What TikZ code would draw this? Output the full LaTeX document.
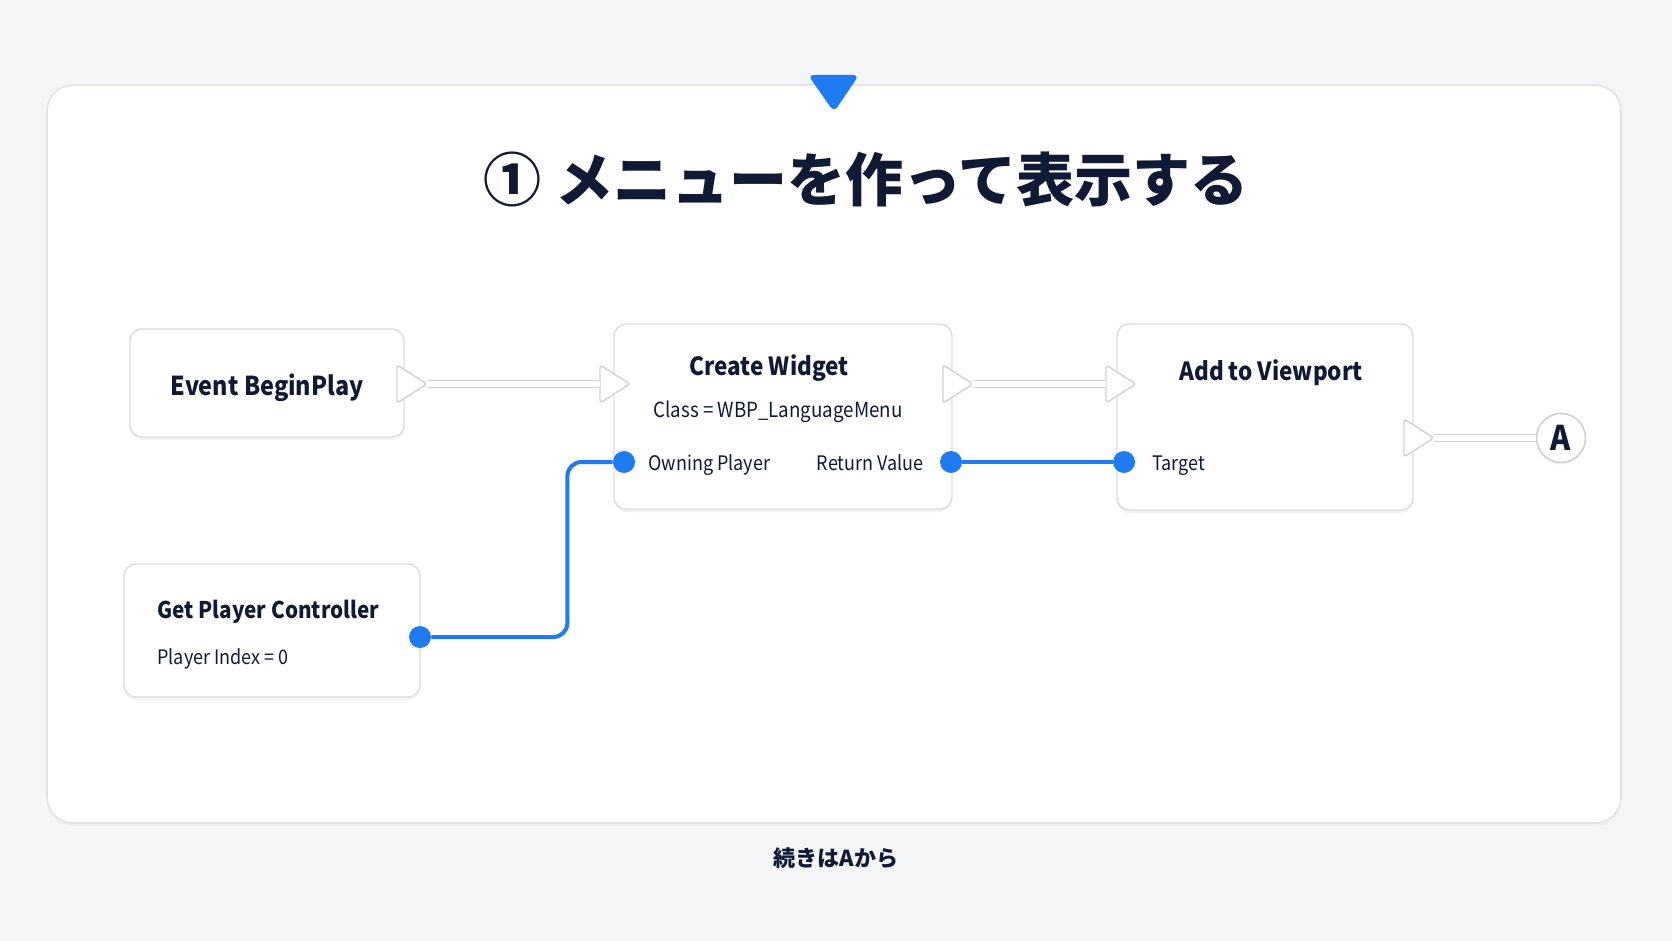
\documentclass[tikz,border=0pt]{standalone}
\usepackage{fontspec}
\setmainfont{Noto Sans CJK JP}
\newfontfamily\uifont[FakeStretch=0.9]{Noto Sans CJK JP}
\usetikzlibrary{shadows}

\definecolor{bgcol}{HTML}{F4F5F7}
\definecolor{panelline}{HTML}{E1E3E7}
\definecolor{boxline}{HTML}{DCDDE0}
\definecolor{ink}{HTML}{111A35}
\definecolor{pinblue}{HTML}{1F7BF2}
\definecolor{execline}{HTML}{CFD1D5}

\tikzset{
  nodebox/.style={draw=boxline, fill=white, line width=0.7pt, rounded corners=6pt,
    drop shadow={shadow xshift=0pt, shadow yshift=-1.5pt, opacity=0.10}},
  headtext/.style={text=ink, font=\uifont\bfseries\fontsize{12.5}{15}\selectfont, inner sep=0pt},
  bodytext/.style={text=ink, font=\uifont\fontsize{10}{12}\selectfont, inner sep=0pt},
  datapin/.style={circle, fill=pinblue, minimum size=11pt, inner sep=0pt},
  wire/.style={draw=pinblue, line width=2pt, rounded corners=7pt},
  execwire/.style={draw=execline, line width=0.6pt, double=white, double distance=2.6pt},
  execshape/.style={draw=execline, fill=white, line width=0.7pt, rounded corners=1.5pt, line join=round},
}

% exec pin: name, x of base, y of centre
\newcommand{\execpin}[3]{%
  \coordinate (#1) at (#2,#3);
  \coordinate (#1-tip) at (#2+30,#3);
  \draw[execshape] (#2,#3-19) -- (#2+30,#3) -- (#2,#3+19) -- cycle;
}

\begin{document}
\begin{tikzpicture}[x=0.5pt, y=-0.5pt]
    \useasboundingbox (0,0) rectangle (1672,941);
    \fill[bgcol] (0,0) rectangle (1672,941);

    % Panel and marker
    \draw[draw=panelline, fill=white, line width=0.8pt, rounded corners=13pt,
      drop shadow={shadow xshift=0pt, shadow yshift=-1.5pt, opacity=0.06}] (47,85) rectangle (1621,823);
    \fill[pinblue, rounded corners=3pt] (808,75) -- (859,75) -- (834,112) -- cycle;

    % Title
    \node[text=ink, font=\bfseries\fontsize{29}{35}\selectfont, inner sep=0pt] (title) at (866,179) {① メニューを作って表示する};

    % Node boxes
    \node[nodebox, minimum width=137pt, minimum height=54pt] (begin) at (267,383) {};
    \node[nodebox, minimum width=169pt, minimum height=92.5pt] (widget) at (783,416.5) {};
    \node[nodebox, minimum width=148pt, minimum height=93pt] (viewport) at (1265,417) {};
    \node[nodebox, minimum width=148pt, minimum height=66.5pt] (getpc) at (272,630.5) {};

    % Node texts
    \node[headtext, font=\uifont\bfseries\fontsize{13}{16}\selectfont, anchor=base] (begintxt) at (267,395) {Event BeginPlay};
    \node[headtext, anchor=base] (widgettxt) at (769,376) {Create Widget};
    \node[bodytext, font=\uifont\fontsize{10.4}{12}\selectfont, anchor=base] (classtxt) at (778,417) {Class = WBP\_LanguageMenu};
    \node[bodytext, anchor=base west] (owningtxt) at (648,470) {Owning Player};
    \node[bodytext, anchor=base east] (returntxt) at (924,470) {Return Value};
    \node[headtext, anchor=base] (viewporttxt) at (1271,381) {Add to Viewport};
    \node[bodytext, anchor=base west] (targettxt) at (1152,470) {Target};
    \node[headtext, font=\uifont\bfseries\fontsize{11.5}{14}\selectfont, anchor=base west] (getpctxt) at (157,618) {Get Player Controller};
    \node[bodytext, anchor=base west] (indextxt) at (157,664) {Player Index = 0};

    % Exec pins and wires
    \execpin{beginout}{397}{384}
    \execpin{widgetin}{600}{384}
    \execpin{widgetout}{943}{384}
    \execpin{viewportin}{1106}{384}
    \execpin{viewportout}{1404}{438}
    \node[circle, draw=execline, fill=white, line width=0.8pt, minimum size=24.5pt, inner sep=0pt,
      text=ink, font=\uifont\bfseries\fontsize{17}{20}\selectfont,
      drop shadow={shadow xshift=0pt, shadow yshift=-1pt, opacity=0.10}] (conA) at (1561,438) {A};
    \draw[execwire] (beginout-tip) -- (widgetin);
    \draw[execwire] (widgetout-tip) -- (viewportin);
    \draw[execwire] (viewportout-tip) -- (conA.west);

    % Data pins and wires
    \node[datapin] (owning) at (624,462) {};
    \node[datapin] (retval) at (951,462) {};
    \node[datapin] (target) at (1124,462) {};
    \node[datapin] (pcout) at (420,637) {};
    \draw[wire] (pcout.east) -- ++(136,0) |- (owning.west);
    \draw[wire] (retval.east) -- (target.west);

    % Caption
    \node[text=ink, font=\bfseries\fontsize{11}{13}\selectfont, anchor=base, inner sep=0pt] (caption) at (836,866) {続きはAから};
\end{tikzpicture}
\end{document}
